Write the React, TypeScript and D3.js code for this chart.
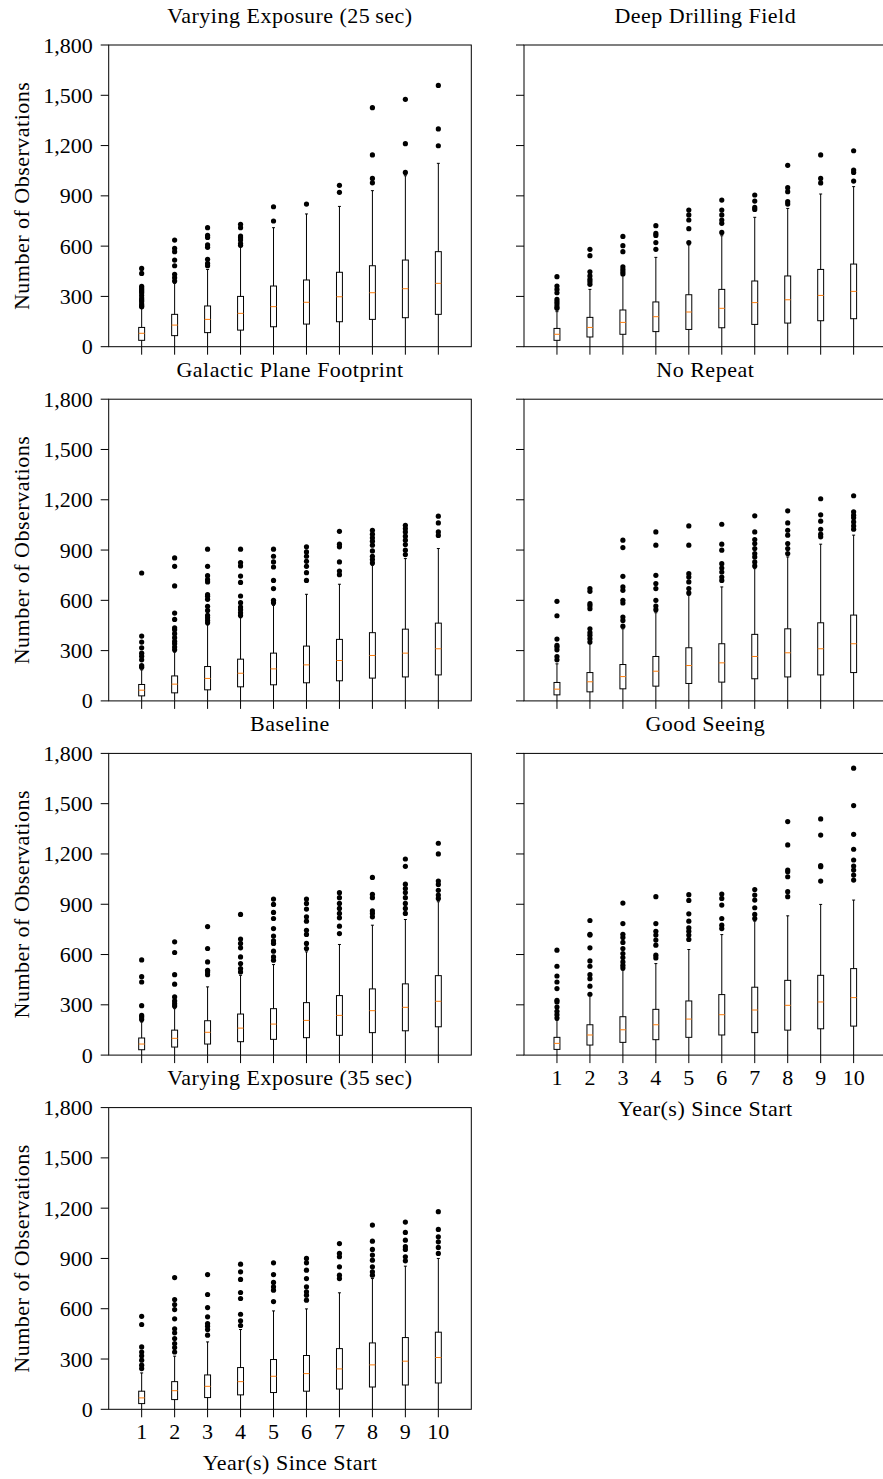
import React from "react";
import * as d3 from "d3";

// Shared axes content
const years = [1, 2, 3, 4, 5, 6, 7, 8, 9, 10];
const yTicks = [0, 300, 600, 900, 1200, 1500, 1800];
const lowWhisker = [0, 0, 0, 0, 0, 0, 0, 0, 0, 0];

// Varying Exposure (25 sec)
const ve25Q1 = [38, 66, 84, 99, 119, 135, 149, 163, 173, 193];
const ve25Median = [80, 129, 163, 199, 239, 265, 298, 322, 346, 378];
const ve25Q3 = [115, 193, 243, 300, 362, 398, 444, 483, 517, 567];
const ve25High = [229, 378, 461, 596, 710, 792, 837, 931, 1020, 1094];
const ve25Outliers = [
  [238, 245, 255, 270, 280, 290, 305, 320, 330, 340, 350, 360, 437, 467],
  [392, 412, 432, 483, 517, 567, 587, 636],
  [483, 497, 521, 593, 607, 652, 664, 710],
  [605, 615, 636, 650, 660, 710, 730],
  [750, 835],
  [851],
  [921, 963],
  [978, 1004, 1144, 1426],
  [1040, 1211, 1476],
  [1199, 1299, 1559],
];

// Deep Drilling Field
const ddfQ1 = [38, 58, 74, 90, 103, 113, 133, 141, 155, 167];
const ddfMedian = [74, 115, 145, 179, 207, 229, 263, 280, 306, 330];
const ddfQ3 = [109, 175, 219, 267, 310, 342, 392, 422, 461, 493];
const ddfHigh = [209, 342, 428, 533, 607, 662, 772, 825, 911, 955];
const ddfOutliers = [
  [229, 239, 255, 268, 282, 322, 342, 362, 418],
  [372, 388, 402, 422, 447, 543, 581],
  [434, 447, 461, 477, 567, 603, 658],
  [581, 621, 664, 676, 722],
  [621, 704, 756, 786, 815],
  [682, 736, 756, 786, 815, 875],
  [819, 831, 869, 905],
  [851, 865, 925, 949, 1082],
  [977, 1004, 1144],
  [988, 1040, 1054, 1169],
];

// Galactic Plane Footprint
const gpQ1 = [30, 48, 66, 84, 96, 108, 120, 136, 143, 155];
const gpMedian = [64, 100, 134, 165, 191, 215, 241, 271, 285, 311];
const gpQ3 = [98, 149, 205, 249, 285, 327, 367, 407, 428, 464];
const gpHigh = [185, 291, 454, 496, 570, 636, 696, 809, 849, 909];
const gpOutliers = [
  [201, 211, 245, 267, 285, 317, 351, 387, 763],
  [305, 321, 341, 355, 377, 401, 424, 436, 486, 524, 686, 803, 853],
  [466, 480, 496, 510, 540, 564, 606, 624, 634, 710, 723, 747, 803, 905],
  [510, 526, 544, 560, 586, 626, 707, 745, 805, 825, 905],
  [586, 600, 670, 719, 799, 829, 863, 905],
  [719, 765, 803, 833, 863, 889, 919],
  [753, 775, 829, 919, 935, 1012],
  [823, 843, 863, 895, 929, 953, 973, 995, 1018],
  [873, 899, 933, 959, 983, 1008, 1028, 1048],
  [987, 1008, 1062, 1102],
];

// No Repeat
const nrQ1 = [36, 54, 72, 88, 104, 112, 132, 143, 155, 169];
const nrMedian = [70, 114, 145, 177, 211, 227, 265, 287, 311, 341];
const nrQ3 = [110, 169, 217, 265, 317, 341, 397, 430, 466, 512];
const nrHigh = [221, 341, 430, 526, 630, 680, 789, 859, 935, 989];
const nrOutliers = [
  [245, 265, 305, 321, 331, 369, 508, 594],
  [351, 371, 391, 407, 430, 550, 568, 580, 654, 670],
  [446, 480, 500, 584, 600, 660, 680, 743, 915, 959],
  [544, 566, 600, 670, 700, 749, 929, 1008],
  [644, 670, 710, 739, 759, 929, 1044],
  [719, 739, 769, 793, 819, 899, 935, 1054],
  [805, 829, 859, 879, 909, 939, 963, 1008, 1104],
  [879, 909, 939, 989, 1018, 1062, 1134],
  [979, 995, 1024, 1072, 1110, 1206],
  [1024, 1044, 1068, 1092, 1108, 1128, 1224],
];

// Baseline
const blQ1 = [32, 48, 66, 80, 94, 104, 118, 134, 145, 169];
const blMedian = [66, 100, 136, 161, 185, 207, 237, 265, 285, 321];
const blQ3 = [102, 149, 205, 245, 277, 313, 355, 395, 425, 474];
const blHigh = [197, 277, 407, 476, 540, 616, 660, 775, 809, 915];
const blOutliers = [
  [213, 227, 237, 295, 436, 468, 568],
  [293, 307, 323, 347, 423, 480, 612, 676],
  [480, 496, 506, 556, 636, 767],
  [496, 516, 546, 586, 640, 666, 692, 839],
  [566, 586, 620, 666, 682, 710, 755, 815, 851, 899, 931],
  [636, 666, 720, 745, 799, 825, 871, 905, 931],
  [725, 769, 819, 845, 875, 905, 939, 969],
  [825, 845, 861, 939, 959, 1060],
  [845, 875, 905, 939, 970, 994, 1020, 1126, 1170],
  [935, 955, 983, 1018, 1038, 1200, 1264],
];

// Good Seeing
const gsQ1 = [34, 60, 76, 92, 106, 120, 134, 149, 157, 173];
const gsMedian = [70, 120, 151, 181, 215, 241, 269, 297, 317, 343];
const gsQ3 = [106, 181, 229, 273, 323, 361, 405, 446, 476, 516];
const gsHigh = [207, 357, 506, 546, 630, 719, 799, 831, 899, 925];
const gsOutliers = [
  [221, 241, 261, 287, 317, 327, 397, 436, 472, 530, 626],
  [363, 411, 456, 480, 530, 562, 640, 716, 721, 803],
  [520, 536, 556, 582, 606, 636, 672, 702, 721, 785, 907],
  [580, 596, 656, 686, 716, 739, 785, 945],
  [690, 716, 739, 759, 799, 843, 923, 957],
  [755, 775, 815, 895, 935, 961],
  [815, 839, 879, 925, 955, 988],
  [945, 975, 1064, 1094, 1104, 1254, 1393],
  [1038, 1124, 1130, 1313, 1409],
  [1044, 1074, 1104, 1128, 1164, 1228, 1317, 1489, 1712],
];

// Varying Exposure (35 sec)
const ve35Q1 = [34, 58, 70, 86, 100, 108, 121, 133, 145, 157];
const ve35Median = [68, 111, 137, 165, 197, 213, 241, 265, 287, 309];
const ve35Q3 = [108, 165, 205, 249, 297, 321, 362, 396, 428, 460];
const ve35High = [217, 317, 402, 476, 587, 599, 695, 780, 854, 900];
const ve35Outliers = [
  [243, 263, 293, 319, 342, 372, 506, 555],
  [342, 368, 392, 422, 456, 480, 540, 595, 625, 655, 786],
  [442, 476, 496, 512, 552, 607, 685, 804],
  [500, 528, 567, 661, 697, 775, 820, 866],
  [643, 711, 731, 757, 804, 874],
  [651, 681, 701, 731, 780, 830, 874, 900],
  [780, 800, 850, 910, 930, 989],
  [800, 820, 850, 890, 920, 954, 1003, 1099],
  [886, 910, 954, 970, 1009, 1055, 1117],
  [930, 966, 999, 1029, 1073, 1179],
];

type Panel = {
  title: string;
  row: number;
  col: number;
  q1: number[];
  median: number[];
  q3: number[];
  high: number[];
  outliers: number[][];
  showXLabels: boolean;
};

const panels: Panel[] = [
  { title: "Varying Exposure (25\u2009sec)", row: 0, col: 0, q1: ve25Q1, median: ve25Median, q3: ve25Q3, high: ve25High, outliers: ve25Outliers, showXLabels: false },
  { title: "Deep Drilling Field", row: 0, col: 1, q1: ddfQ1, median: ddfMedian, q3: ddfQ3, high: ddfHigh, outliers: ddfOutliers, showXLabels: false },
  { title: "Galactic Plane Footprint", row: 1, col: 0, q1: gpQ1, median: gpMedian, q3: gpQ3, high: gpHigh, outliers: gpOutliers, showXLabels: false },
  { title: "No Repeat", row: 1, col: 1, q1: nrQ1, median: nrMedian, q3: nrQ3, high: nrHigh, outliers: nrOutliers, showXLabels: false },
  { title: "Baseline", row: 2, col: 0, q1: blQ1, median: blMedian, q3: blQ3, high: blHigh, outliers: blOutliers, showXLabels: false },
  { title: "Good Seeing", row: 2, col: 1, q1: gsQ1, median: gsMedian, q3: gsQ3, high: gsHigh, outliers: gsOutliers, showXLabels: true },
  { title: "Varying Exposure (35\u2009sec)", row: 3, col: 0, q1: ve35Q1, median: ve35Median, q3: ve35Q3, high: ve35High, outliers: ve35Outliers, showXLabels: true },
];

const W = 883;
const H = 1479;
const colLeft = [108.7, 524];
const panelW = 362.6;
const rowTop0 = 45;
const rowStep = 354.2;
const panelH = 301.7;
const FONT = "'Liberation Serif', 'Times New Roman', serif";
const FS = 22;
const LABEL_SPACING = 0.5;
const fmt = d3.format(",");
const boxWidth = 0.18;
const medianColor = "#ff7f0e";

function BoxPanel({ p }: { p: Panel }) {
  const left = colLeft[p.col];
  const top = rowTop0 + p.row * rowStep;
  const bottom = top + panelH;
  const x = d3.scaleLinear().domain([0, 11]).range([left, left + panelW]);
  const y = d3.scaleLinear().domain([0, 1800]).range([bottom, top]);
  const bw = x(boxWidth) - x(0);
  const cap = bw / 2;

  return (
    <g>
      <text x={(left + left + panelW) / 2} y={top - 22.5} textAnchor="middle" fontFamily={FONT} fontSize={FS} letterSpacing={LABEL_SPACING} fill="#000">
        {p.title}
      </text>

      {p.col === 0 && (
        <text
          transform={`translate(21,${(top + bottom) / 2}) rotate(-90)`}
          textAnchor="middle"
          dominantBaseline="central"
          fontFamily={FONT}
          fontSize={FS}
          letterSpacing={LABEL_SPACING}
          fill="#000"
        >
          Number of Observations
        </text>
      )}

      {yTicks.map((t) => (
        <g key={`yt${t}`}>
          <line x1={left - 8} x2={left} y1={y(t)} y2={y(t)} stroke="#000" strokeWidth={1} />
          {p.col === 0 && (
            <text x={left - 16} y={y(t)} textAnchor="end" dominantBaseline="central" fontFamily={FONT} fontSize={FS} fill="#000">
              {fmt(t)}
            </text>
          )}
        </g>
      ))}

      {years.map((yr) => (
        <g key={`xt${yr}`}>
          <line x1={x(yr)} x2={x(yr)} y1={bottom} y2={bottom + 8} stroke="#000" strokeWidth={1} />
          {p.showXLabels && (
            <text x={x(yr)} y={bottom + 30} textAnchor="middle" fontFamily={FONT} fontSize={FS} fill="#000">
              {yr}
            </text>
          )}
        </g>
      ))}

      {p.showXLabels && (
        <text x={(left + left + panelW) / 2} y={bottom + 61} textAnchor="middle" fontFamily={FONT} fontSize={FS} letterSpacing={LABEL_SPACING} fill="#000">
          Year(s) Since Start
        </text>
      )}

      {years.map((yr, i) => {
        const cx = x(yr);
        return (
          <g key={`box${yr}`}>
            <line x1={cx} x2={cx} y1={y(p.q3[i])} y2={y(p.high[i])} stroke="#000" strokeWidth={1} />
            <line x1={cx} x2={cx} y1={y(p.q1[i])} y2={y(lowWhisker[i])} stroke="#000" strokeWidth={1} />
            <line x1={cx - cap / 2} x2={cx + cap / 2} y1={y(p.high[i])} y2={y(p.high[i])} stroke="#000" strokeWidth={1} />
            <rect x={cx - bw / 2} y={y(p.q3[i])} width={bw} height={y(p.q1[i]) - y(p.q3[i])} fill="none" stroke="#000" strokeWidth={1} />
            <line x1={cx - bw / 2} x2={cx + bw / 2} y1={y(p.median[i])} y2={y(p.median[i])} stroke={medianColor} strokeWidth={1} />
            {p.outliers[i].map((v, j) => (
              <circle key={j} cx={cx} cy={y(v)} r={2.6} fill="#000" />
            ))}
          </g>
        );
      })}

      <rect x={left} y={top} width={panelW} height={panelH} fill="none" stroke="#000" strokeWidth={1} />
    </g>
  );
}

export default function App() {
  return (
    <svg
      width={W}
      height={H}
      viewBox={`0 0 ${W} ${H}`}
      style={{ position: "absolute", left: 0, top: 0, background: "#fff" }}
    >
      <rect x={0} y={0} width={W} height={H} fill="#fff" />
      {panels.map((p) => (
        <BoxPanel key={p.title} p={p} />
      ))}
    </svg>
  );
}
